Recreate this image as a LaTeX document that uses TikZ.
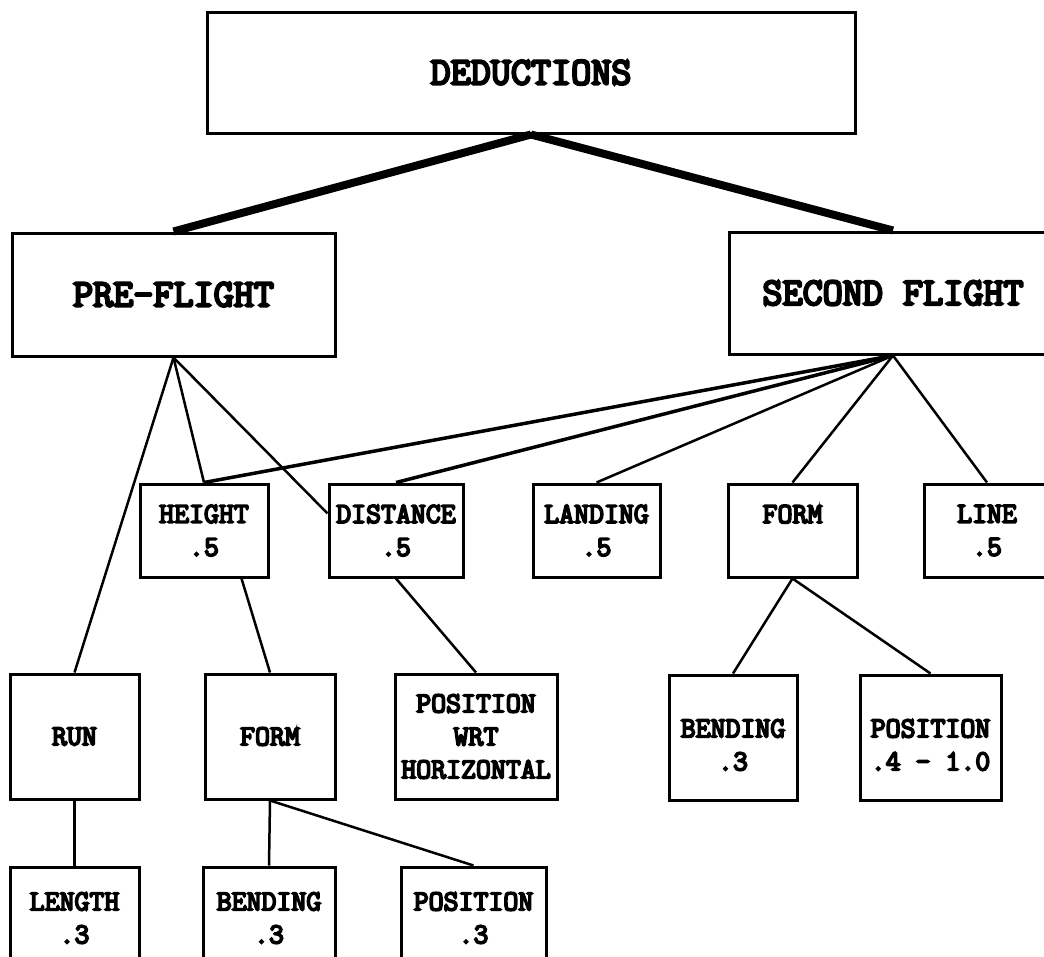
\documentclass[tikz,border=0pt]{standalone}
\usepackage{fontspec}
\setmonofont{Latin Modern Mono}[FakeBold=6]
\usepackage{tikz}

\newcommand{\smalltype}{\fontsize{29}{33}\selectfont\ttfamily}
\newcommand{\bigtype}{\fontsize{39}{44}\selectfont\ttfamily}

\begin{document}
\begin{tikzpicture}
    [
    x=1pt, y=-1pt,
    card/.style={draw,line width=3pt,inner sep=0pt,align=center,font=\smalltype},
    head/.style={card,font=\bigtype},
    link/.style={line width=2.5pt},
    heavy/.style={line width=8pt},
    ]
    \path [use as bounding box, clip] (0,0) rectangle (1044,956);

    \node (ded) at (531,72.5) [head, minimum width=648pt, minimum height=121pt] {DEDUCTIONS};
    \node (pre) at (173.5,294.5) [head, minimum width=323pt, minimum height=123pt] {PRE-FLIGHT};
    \node (sec) at (893,293) [head, minimum width=328pt, minimum height=122pt] {SECOND FLIGHT};

    \node (hgt) at (204,530.5) [card, minimum width=128pt, minimum height=93pt] {HEIGHT\\.5};
    \node (dst) at (396,530.5) [card, minimum width=134pt, minimum height=93pt] {DISTANCE\\.5};
    \node (lnd) at (596.5,530.5) [card, minimum width=127pt, minimum height=93pt] {LANDING\\.5};
    \node (frm) at (792.5,530.5) [card, minimum width=129pt, minimum height=93pt] {FORM\\\mbox{}};
    \node (lin) at (987,530.5) [card, minimum width=126pt, minimum height=93pt] {LINE\\.5};

    \node (run) at (74.5,736.5) [card, minimum width=129pt, minimum height=125pt] {RUN};
    \node (frmb) at (270,736.5) [card, minimum width=130pt, minimum height=125pt] {FORM};
    \node (pwrt) at (476,736.5) [card, minimum width=162pt, minimum height=125pt] {POSITION\\WRT\\HORIZONTAL};
    \node (bnd) at (733,737.5) [card, minimum width=128pt, minimum height=125pt] {\mbox{}\\BENDING\\.3};
    \node (posr) at (930.5,737.5) [card, minimum width=141pt, minimum height=125pt] {\mbox{}\\POSITION\\.4 - 1.0};

    \node (len) at (74.5,918) [card, minimum width=129pt, minimum height=102pt] {LENGTH\\.3};
    \node (bndb) at (269,918) [card, minimum width=132pt, minimum height=102pt] {BENDING\\.3};
    \node (posb) at (473.5,918) [card, minimum width=145pt, minimum height=102pt] {POSITION\\.3};

    \draw [heavy] (ded.south) to (pre.north);
    \draw [heavy] (ded.south) to (sec.north);

    \draw [link] (pre.south) to (run.north);
    \draw [link] (pre.south) to (hgt.north);
    \draw [link] (pre.south) to (dst.166);

    \draw [link, line width=3.5pt] (sec.south) to (hgt.north);
    \draw [link, line width=3.5pt] (sec.south) to (dst.north);
    \draw [link] (sec.south) to (lnd.north);
    \draw [link] (sec.south) to (frm.north);
    \draw [link] (sec.south) to (lin.north);

    \draw [link] (hgt.-52) to (frmb.north);
    \draw [link] (dst.south) to (pwrt.north);
    \draw [link] (frm.south) to (bnd.north);
    \draw [link] (frm.south) to (posr.north);

    \draw [link] (run.south) to (len.north);
    \draw [link] (frmb.south) to (bndb.north);
    \draw [link] (frmb.south) to (posb.north);
\end{tikzpicture}
\end{document}
